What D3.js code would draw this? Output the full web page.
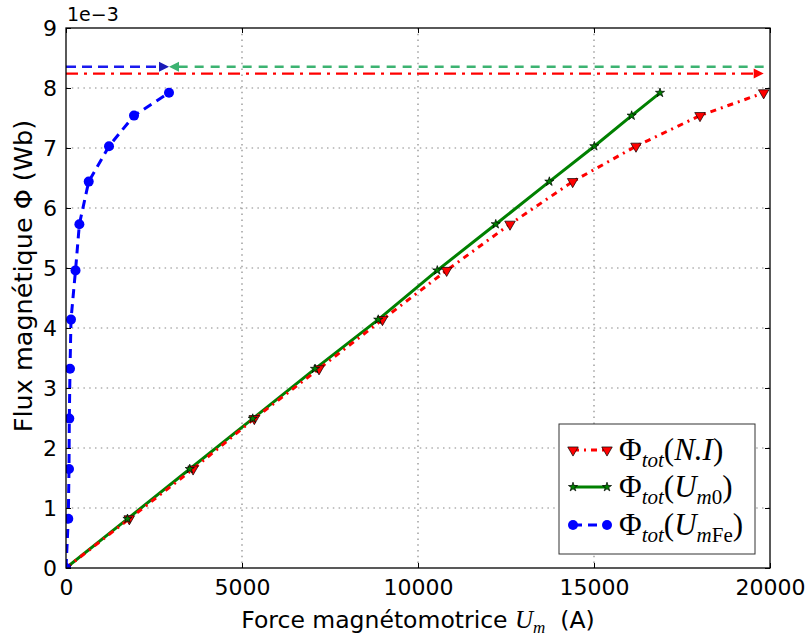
<!DOCTYPE html>
<html><head><meta charset="utf-8">
<script src="https://cdn.jsdelivr.net/npm/d3@7"></script>
<style>
body{margin:0;background:#fff;}
svg{display:block;font-family:"DejaVu Sans",sans-serif;}
</style></head><body>
<svg id="chart" width="808" height="639"></svg>
<script>
// Flux values in units of 1e-3 Wb
const fluxValues = [0, 0.82, 1.65, 2.49, 3.32, 4.14, 4.96, 5.73, 6.44, 7.03, 7.54, 7.92];
const umNI  = [0, 1799, 3610, 5350, 7188, 8990, 10814, 12614, 14394, 16193, 18011, 19820];
const umM0  = [0, 1747, 3516, 5305, 7074, 8870, 10548, 12209, 13731, 15009, 16070, 16875];
const umFe  = [0, 65, 85, 94, 114, 142, 270, 380, 645, 1222, 1932, 2926];
const xTicks = [0, 5000, 10000, 15000, 20000];
const yTicks = [0, 1, 2, 3, 4, 5, 6, 7, 8, 9];
// horizontal arrows: [y, xStart, xEnd]
const arrowFe = [8.355, 0, 2926];
const arrowM0 = [8.355, 19820, 2926];
const arrowNI = [8.24, 0, 19820];

const svg = d3.select("#chart");
const L = 66, R = 770, T = 28, B = 568;
const x = d3.scaleLinear().domain([0, 20000]).range([L, R]);
const y = d3.scaleLinear().domain([0, 9]).range([B, T]);

// grid
const grid = svg.append("g");
grid.selectAll(".gx").data(xTicks.slice(1, -1)).enter().append("line")
  .attr("x1", d => x(d)).attr("x2", d => x(d)).attr("y1", T).attr("y2", B)
  .attr("stroke", "#888").attr("stroke-width", 1.2).attr("stroke-dasharray", "1.5,4.3");
grid.selectAll(".gy").data(yTicks.slice(1, -1)).enter().append("line")
  .attr("y1", d => y(d)).attr("y2", d => y(d)).attr("x1", L).attr("x2", R)
  .attr("stroke", "#888").attr("stroke-width", 1.2).attr("stroke-dasharray", "1.5,4.3");

// axes
const fs = 22;
const xAxis = d3.axisBottom(x).tickValues(xTicks).tickSizeInner(-5).tickSizeOuter(0).tickPadding(11).tickFormat(d3.format("d"));
const gx = svg.append("g").attr("transform", `translate(0,${B})`).call(xAxis);
gx.select(".domain").remove();
gx.selectAll("text").attr("font-size", fs).attr("font-family", "DejaVu Sans").attr("fill", "#000");
gx.selectAll("line").attr("stroke", "#000");
const xAxisTop = d3.axisTop(x).tickValues(xTicks).tickSizeInner(-5).tickSizeOuter(0).tickFormat("");
const gxt = svg.append("g").attr("transform", `translate(0,${T})`).call(xAxisTop);
gxt.select(".domain").remove();

const yAxis = d3.axisLeft(y).tickValues(yTicks).tickSizeInner(-5).tickSizeOuter(0).tickPadding(9).tickFormat(d3.format("d"));
const gy = svg.append("g").attr("transform", `translate(${L},0)`).call(yAxis);
gy.select(".domain").remove();
gy.selectAll("text").attr("font-size", fs).attr("font-family", "DejaVu Sans").attr("fill", "#000");
const yAxisR = d3.axisRight(y).tickValues(yTicks).tickSizeInner(-5).tickSizeOuter(0).tickFormat("");
const gyr = svg.append("g").attr("transform", `translate(${R},0)`).call(yAxisR);
gyr.select(".domain").remove();

// offset text
svg.append("text").attr("x", L + 1).attr("y", 21).attr("font-size", 19).text("1e\u22123");

// axis labels
const xl = svg.append("text").attr("x", 418).attr("y", 628).attr("text-anchor", "middle").attr("font-size", 23.5);
xl.append("tspan").text("Force magnétomotrice ");
xl.append("tspan").attr("font-family", "Liberation Serif").attr("font-style", "italic").attr("font-size", 25).text("U");
xl.append("tspan").attr("font-family", "Liberation Serif").attr("font-style", "italic").attr("font-size", 17).attr("dy", 5).text("m");
xl.append("tspan").attr("dy", -5).text("\u00a0 (A)");

svg.append("text").attr("transform", "translate(32,276) rotate(-90)").attr("text-anchor", "middle")
  .attr("font-size", 25.5).text("Flux magnétique Φ (Wb)");

// lines
const clip = svg.append("defs").append("clipPath").attr("id", "clip").append("rect")
  .attr("x", L).attr("y", T).attr("width", R - L).attr("height", B - T);
const plot = svg.append("g").attr("clip-path", "url(#clip)");

const line = d3.line().x(d => x(d[0])).y(d => y(d[1]));
const sNI = umNI.map((v, i) => [v, fluxValues[i]]);
const sM0 = umM0.map((v, i) => [v, fluxValues[i]]);
const sFe = umFe.map((v, i) => [v, fluxValues[i]]);

const RED = "#ff0000", GREEN = "#008000", BLUE = "#0000ff", SEA = "#3cb371";

// arrows
function arrow(a, color, dash, headColor) {
  const [yy, x0, x1] = a;
  const dir = x1 > x0 ? 1 : -1;
  const px1 = x(x1), py = y(yy);
  plot.append("line").attr("x1", x(x0)).attr("x2", px1 - dir * 6).attr("y1", py).attr("y2", py)
    .attr("stroke", color).attr("stroke-width", 2.4).attr("stroke-dasharray", dash);
  plot.append("path").attr("d", `M${px1},${py} L${px1 - dir * 10},${py - 5} L${px1 - dir * 10},${py + 5} Z`)
    .attr("fill", headColor);
}
arrow(arrowM0, SEA, "9,7", SEA);
arrow(arrowNI, RED, "12,6,3,6", RED);
arrow(arrowFe, "#1a1aee", "10,6", "#1a1ab8");

plot.append("path").datum(sM0).attr("d", line).attr("fill", "none").attr("stroke", GREEN).attr("stroke-width", 3);
plot.append("path").datum(sNI).attr("d", line).attr("fill", "none").attr("stroke", RED).attr("stroke-width", 3)
  .attr("stroke-dasharray", "6,5,2,5");
plot.append("path").datum(sFe).attr("d", line).attr("fill", "none").attr("stroke", BLUE).attr("stroke-width", 3)
  .attr("stroke-dasharray", "9,6");

// markers
const tri = d3.symbol().type(d3.symbolTriangle).size(48);
const star = d3.symbol().type(d3.symbolStar).size(26);
plot.selectAll(".tri").data(sNI).enter().append("path")
  .attr("d", tri).attr("transform", d => `translate(${x(d[0])},${y(d[1])}) rotate(180)`)
  .attr("fill", RED).attr("stroke", "#000").attr("stroke-width", 0.7);
plot.selectAll(".star").data(sM0).enter().append("path")
  .attr("d", star).attr("transform", d => `translate(${x(d[0])},${y(d[1])})`)
  .attr("fill", GREEN).attr("stroke", "#000").attr("stroke-width", 0.7);
plot.selectAll(".dot").data(sFe).enter().append("circle")
  .attr("cx", d => x(d[0])).attr("cy", d => y(d[1])).attr("r", 5)
  .attr("fill", BLUE);

// frame
svg.append("rect").attr("x", L).attr("y", T).attr("width", R - L).attr("height", B - T)
  .attr("fill", "none").attr("stroke", "#000").attr("stroke-width", 1.3);

// legend
const lg = svg.append("g");
lg.append("rect").attr("x", 559).attr("y", 424).attr("width", 196).attr("height", 130)
  .attr("fill", "#fff").attr("stroke", "#333").attr("stroke-width", 1);
const items = [
  {c: RED, dash: "6,5,2,5", m: "tri", arg: [["N.I", "i", 0]]},
  {c: GREEN, dash: null, m: "star", arg: [["U", "i", 0], ["m", "i", 1], ["0", "n", 1]]},
  {c: BLUE, dash: "9,6", m: "dot", arg: [["U", "i", 0], ["m", "i", 1], ["Fe", "n", 1]]}
];
const rowsY = [450, 487, 525];
items.forEach((it, i) => {
  const yy = rowsY[i];
  const ln = lg.append("line").attr("x1", 573).attr("x2", 607).attr("y1", yy).attr("y2", yy)
    .attr("stroke", it.c).attr("stroke-width", 3);
  if (it.dash) ln.attr("stroke-dasharray", it.dash);
  [573, 607].forEach(px => {
    if (it.m === "tri") lg.append("path").attr("d", tri).attr("transform", `translate(${px},${yy}) rotate(180)`)
      .attr("fill", RED).attr("stroke", "#000").attr("stroke-width", 0.7);
    else if (it.m === "star") lg.append("path").attr("d", star).attr("transform", `translate(${px},${yy})`)
      .attr("fill", GREEN).attr("stroke", "#000").attr("stroke-width", 0.7);
    else lg.append("circle").attr("cx", px).attr("cy", yy).attr("r", 5).attr("fill", BLUE);
  });
  const t = lg.append("text").attr("x", 619).attr("y", yy + 10).attr("font-family", "Liberation Serif").attr("font-size", 31);
  t.append("tspan").text("Φ");
  t.append("tspan").attr("font-style", "italic").attr("font-size", 21).attr("dy", 7).text("tot");
  t.append("tspan").attr("dy", -7).text("(");
  let sub = 0;
  it.arg.forEach(([s, st, isSub]) => {
    const ts = t.append("tspan").text(s).attr("font-style", st === "i" ? "italic" : "normal");
    if (isSub) { ts.attr("font-size", 21); if (!sub) { ts.attr("dy", 7); sub = 1; } }
  });
  t.append("tspan").attr("dy", sub ? -7 : 0).text(")");
});
</script>
</body></html>
